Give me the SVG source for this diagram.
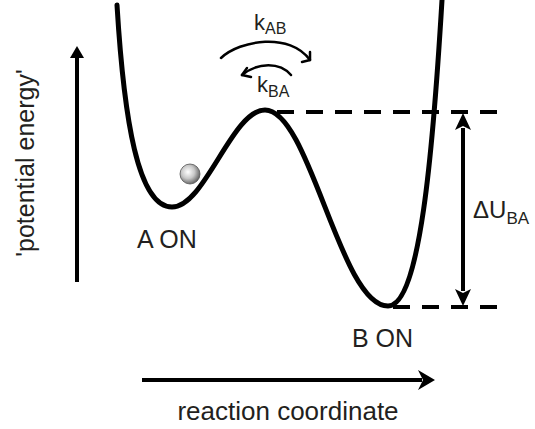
<svg xmlns="http://www.w3.org/2000/svg" width="535" height="429" viewBox="0 0 535 429">
<style>
.curve{fill:none;stroke:#000;stroke-width:5;stroke-linecap:round}
.dash{fill:none;stroke:#000;stroke-width:4;stroke-dasharray:17 12}
.axis{fill:none;stroke:#000;stroke-width:4}
.thin{fill:none;stroke:#000;stroke-width:2.5;stroke-linecap:round;stroke-linejoin:round}
.lbl{font-family:"Liberation Sans",Arial,sans-serif;fill:#231f20;font-size:25px}
.k{font-size:22px}
.ksub{font-size:16px}
</style>
<defs>
<radialGradient id="ballGrad" cx="0.4" cy="0.4" r="0.65">
<stop offset="0" stop-color="#ffffff"/>
<stop offset="0.5" stop-color="#c8c8c8"/>
<stop offset="1" stop-color="#5a5a5a"/>
</radialGradient>
</defs>
<g id="energy-curve">
<path class="curve" d="M117,5 C124,120 138,207 172,207 C205,207 232,110 265,110 C310,110 340,306 388,306 C420,306 433,150 442,0"/>
</g>
<g id="ball">
<circle cx="190" cy="174" r="10" fill="url(#ballGrad)" stroke="#555" stroke-width="0.8"/>
</g>
<g id="connectors">
<path class="dash" d="M277,112 H500"/>
<path class="dash" d="M393,307 H498"/>
<g id="delta-arrow">
<path class="axis" d="M463,128 V291" stroke-width="3"/>
<path d="M463,113 L455,130 L463,126 L471,130 Z" fill="#000"/>
<path d="M463,306 L455,289 L463,293 L471,289 Z" fill="#000"/>
</g>
<g id="y-axis">
<path class="axis" d="M77,282 V56" stroke-width="3.5"/>
<path d="M77,46 L70,58 L84,58 Z" fill="#000"/>
</g>
<g id="x-axis">
<path class="axis" d="M142,380 H422" stroke-width="4"/>
<path d="M435,380 L418,370 L423,380 L418,390 Z" fill="#000"/>
</g>
<g id="kAB-arrow">
<path class="thin" d="M221,58 C240,40 290,32 310,60"/>
<path class="thin" d="M310,52 L310,60 L302,62"/>
</g>
<g id="kBA-arrow">
<path class="thin" d="M291,75 C280,62 258,62 242,75"/>
<path class="thin" d="M247,68 L242,75 L251,77"/>
</g>
</g>
<g id="labels">
<text class="lbl k" x="254" y="30">k<tspan class="ksub" dy="4">AB</tspan></text>
<text class="lbl k" x="257" y="92">k<tspan class="ksub" dy="5">BA</tspan></text>
<text class="lbl" x="137" y="248">A ON</text>
<text class="lbl" x="352" y="347">B ON</text>
<text class="lbl" x="473" y="218" style="font-size:24px">ΔU<tspan dy="6" style="font-size:17px">BA</tspan></text>
<text class="lbl" x="288" y="420" text-anchor="middle" style="font-size:26px">reaction coordinate</text>
<text class="lbl" transform="translate(34,163) rotate(-90)" text-anchor="middle" style="font-size:25px">'potential energy'</text>
</g>
</svg>
